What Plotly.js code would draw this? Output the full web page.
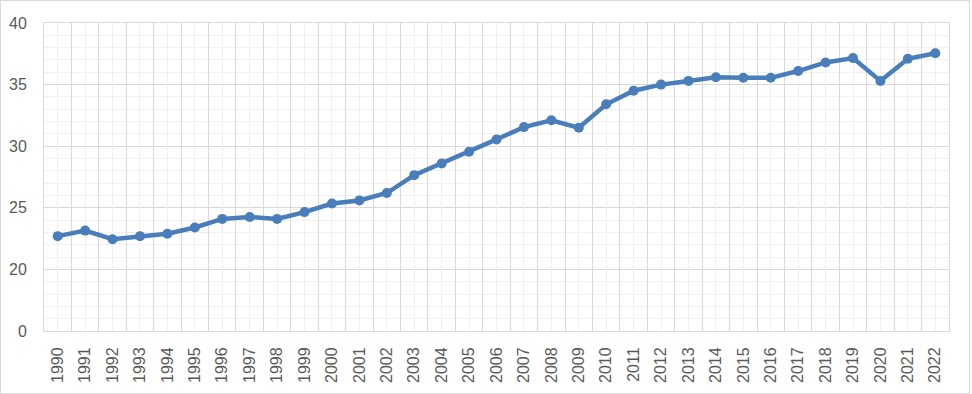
<!DOCTYPE html>
<html>
<head>
<meta charset="utf-8">
<script src="https://cdn.plot.ly/plotly-3.0.1.min.js"></script>
<style>
  html, body { margin: 0; padding: 0; background: #fff; }
  #frame { position: absolute; left: 0; top: 0; width: 970px; height: 394px; box-sizing: border-box; border: 1px solid #d9d9d9; background: #fff; }
  #chart { width: 968px; height: 392px; }
</style>
</head>
<body>
<div id="frame"><div id="chart"></div></div>
<script>
const years = ['1990','1991','1992','1993','1994','1995','1996','1997','1998','1999','2000','2001','2002','2003','2004','2005','2006','2007','2008','2009','2010','2011','2012','2013','2014','2015','2016','2017','2018','2019','2020','2021','2022'];
const values = [22.7, 23.15, 22.45, 22.7, 22.9, 23.4, 24.1, 24.25, 24.1, 24.65, 25.35, 25.6, 26.2, 27.65, 28.6, 29.55, 30.55, 31.55, 32.1, 31.5, 33.4, 34.5, 35.0, 35.3, 35.6, 35.55, 35.55, 36.1, 36.8, 37.15, 35.3, 37.1, 37.55];
const yTickVals = [15, 20, 25, 30, 35, 40];
const yTickText = ['0', '20', '25', '30', '35', '40'];

const blue = '#4a7ebb';
const major = '#d9d9d9';
const minor = '#f0f0f0';
const tickFont = { family: 'Liberation Sans, Arial, sans-serif', size: 16, color: '#595959' };

const traces = [
  {
    x: years, y: values, type: 'scatter', mode: 'lines+markers',
    line: { color: blue, width: 4.5 },
    marker: { color: blue, size: 10 },
    hoverinfo: 'skip', showlegend: false
  },
  { x: [], y: [], xaxis: 'x2', yaxis: 'y', type: 'scatter', showlegend: false, hoverinfo: 'skip' }
];

const layout = {
  width: 968, height: 392,
  margin: { l: 43, r: 20, t: 22, b: 62 },
  paper_bgcolor: '#ffffff', plot_bgcolor: '#ffffff',
  showlegend: false,
  xaxis: {
    type: 'category', range: [-0.5, years.length - 0.5],
    tickson: 'boundaries', ticks: '', showgrid: true, gridcolor: major, gridwidth: 1,
    showline: true, linecolor: major, linewidth: 1, mirror: true,
    tickangle: -90, tickfont: tickFont, ticklabelstandoff: 9, zeroline: false, fixedrange: true
  },
  xaxis2: {
    type: 'linear', overlaying: 'x', range: [-0.5, years.length - 0.5],
    tick0: 0, dtick: 1, showgrid: true, gridcolor: minor, gridwidth: 1,
    showticklabels: false, ticks: '', zeroline: false, showline: false, fixedrange: true,
    layer: 'below traces'
  },
  yaxis: {
    range: [15, 40], tickvals: yTickVals, ticktext: yTickText,
    showgrid: true, gridcolor: major, gridwidth: 1,
    minor: { dtick: 1, tick0: 15, showgrid: true, gridcolor: minor, gridwidth: 1, ticks: '' },
    showline: true, linecolor: major, mirror: true,
    ticks: '', ticklabelstandoff: 13, tickfont: tickFont, zeroline: false, fixedrange: true
  }
};

Plotly.newPlot('chart', traces, layout, { displayModeBar: false, staticPlot: true });
</script>
</body>
</html>
